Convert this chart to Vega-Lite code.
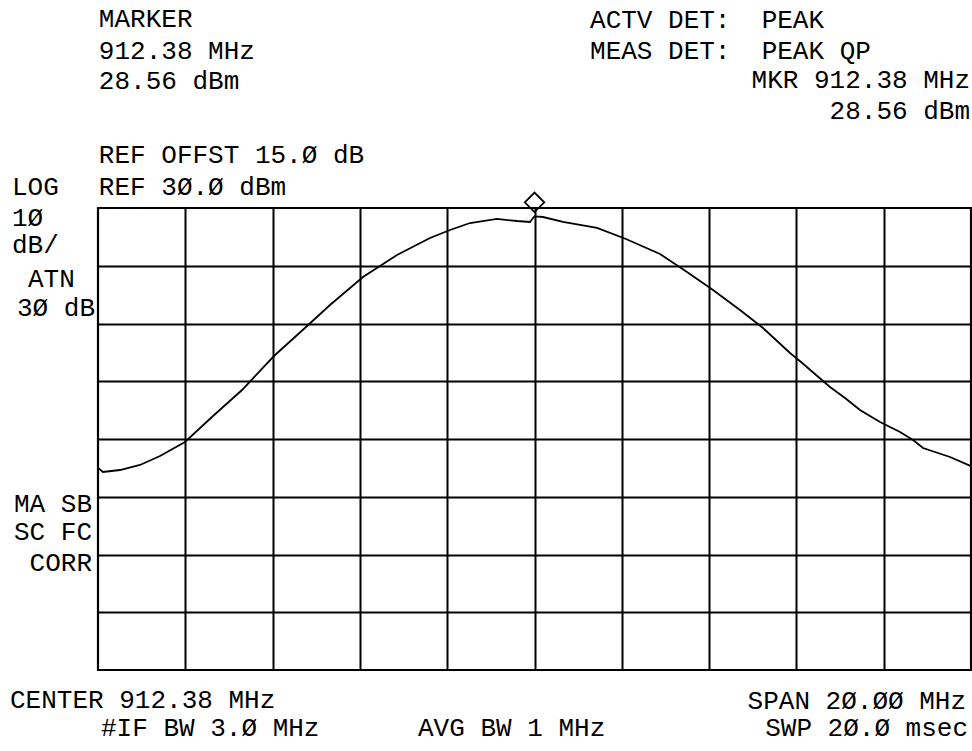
{
  "$schema": "https://vega.github.io/schema/vega-lite/v6.json",
  "width": 873,
  "height": 462,
  "autosize": {"type": "none"},
  "padding": {"left": 98, "top": 208, "right": 1, "bottom": 81},
  "background": "white",
  "data": {"values": [{}]},
  "config": {
    "view": {"stroke": "black", "strokeWidth": 2.2},
    "text": {"font": "Liberation Mono", "fontSize": 26, "color": "black", "baseline": "middle"}
  },
  "datasets": {
    "trace": [
      {"f": 902.38, "dbm": -15.0},
      {"f": 902.495, "dbm": -15.71},
      {"f": 902.884, "dbm": -15.37},
      {"f": 903.342, "dbm": -14.5},
      {"f": 903.8, "dbm": -12.94},
      {"f": 904.373, "dbm": -10.52},
      {"f": 905.015, "dbm": -6.02},
      {"f": 905.679, "dbm": -1.52},
      {"f": 906.412, "dbm": 4.37},
      {"f": 907.145, "dbm": 9.39},
      {"f": 907.695, "dbm": 13.2},
      {"f": 908.451, "dbm": 18.05},
      {"f": 909.23, "dbm": 21.86},
      {"f": 909.986, "dbm": 24.81},
      {"f": 910.444, "dbm": 26.19},
      {"f": 910.903, "dbm": 27.4},
      {"f": 911.521, "dbm": 28.1},
      {"f": 911.979, "dbm": 27.75},
      {"f": 912.277, "dbm": 27.58},
      {"f": 912.346, "dbm": 28.27},
      {"f": 912.38, "dbm": 28.56},
      {"f": 912.575, "dbm": 28.44},
      {"f": 913.033, "dbm": 27.58},
      {"f": 913.812, "dbm": 26.54},
      {"f": 914.476, "dbm": 24.63},
      {"f": 915.255, "dbm": 22.03},
      {"f": 915.874, "dbm": 18.92},
      {"f": 916.47, "dbm": 15.8},
      {"f": 917.088, "dbm": 12.34},
      {"f": 917.615, "dbm": 9.22},
      {"f": 918.234, "dbm": 4.89},
      {"f": 918.486, "dbm": 3.33},
      {"f": 919.15, "dbm": -1.0},
      {"f": 919.494, "dbm": -2.9},
      {"f": 919.837, "dbm": -4.98},
      {"f": 920.296, "dbm": -7.06},
      {"f": 920.754, "dbm": -8.79},
      {"f": 921.052, "dbm": -10.17},
      {"f": 921.281, "dbm": -11.56},
      {"f": 921.899, "dbm": -13.12},
      {"f": 922.38, "dbm": -14.7}
    ]
  },
  "layer": [
    {
      "data": {"name": "trace"},
      "mark": {"type": "line", "color": "black", "strokeWidth": 1.8, "interpolate": "linear"},
      "encoding": {
        "x": {
          "field": "f", "type": "quantitative",
          "scale": {"domain": [902.38, 922.38], "nice": false, "zero": false},
          "axis": {"values": [904.38, 906.38, 908.38, 910.38, 912.38, 914.38, 916.38, 918.38, 920.38], "grid": true, "gridColor": "black", "gridOpacity": 1, "gridWidth": 2, "labels": false, "ticks": false, "domain": false, "title": null}
        },
        "y": {
          "field": "dbm", "type": "quantitative",
          "scale": {"domain": [-50, 30], "nice": false, "zero": false},
          "axis": {"values": [-40, -30, -20, -10, 0, 10, 20], "grid": true, "gridColor": "black", "gridOpacity": 1, "gridWidth": 2, "labels": false, "ticks": false, "domain": false, "title": null}
        }
      }
    },
    {
      "mark": {"type": "point", "shape": "diamond", "filled": false, "stroke": "black", "strokeWidth": 1.8, "size": 380, "yOffset": -14, "opacity": 1},
      "encoding": {"x": {"datum": 912.38}, "y": {"datum": 28.56}}
    },
    {"mark": {"type": "text", "align": "left"}, "encoding": {"x": {"datum": 902.40}, "y": {"datum": 62.81}, "text": {"value": "MARKER"}}},
    {"mark": {"type": "text", "align": "left"}, "encoding": {"x": {"datum": 902.40}, "y": {"datum": 57.19}, "text": {"value": "912.38 MHz"}}},
    {"mark": {"type": "text", "align": "left"}, "encoding": {"x": {"datum": 902.40}, "y": {"datum": 51.99}, "text": {"value": "28.56 dBm"}}},
    {"mark": {"type": "text", "align": "left"}, "encoding": {"x": {"datum": 902.40}, "y": {"datum": 39.18}, "text": {"value": "REF OFFST 15.Ø dB"}}},
    {"mark": {"type": "text", "align": "left"}, "encoding": {"x": {"datum": 902.40}, "y": {"datum": 33.72}, "text": {"value": "REF 3Ø.Ø dBm"}}},
    {"mark": {"type": "text", "align": "left"}, "encoding": {"x": {"datum": 900.41}, "y": {"datum": 33.72}, "text": {"value": "LOG"}}},
    {"mark": {"type": "text", "align": "left"}, "encoding": {"x": {"datum": 913.652}, "y": {"datum": 62.47}, "text": {"value": "ACTV DET: \u00a0PEAK"}}},
    {"mark": {"type": "text", "align": "left"}, "encoding": {"x": {"datum": 913.652}, "y": {"datum": 57.10}, "text": {"value": "MEAS DET: \u00a0PEAK QP"}}},
    {"mark": {"type": "text", "align": "right"}, "encoding": {"x": {"datum": 922.358}, "y": {"datum": 52.08}, "text": {"value": "MKR 912.38 MHz"}}},
    {"mark": {"type": "text", "align": "right"}, "encoding": {"x": {"datum": 922.358}, "y": {"datum": 46.88}, "text": {"value": "28.56 dBm"}}},
    {"mark": {"type": "text", "align": "left"}, "encoding": {"x": {"datum": 900.41}, "y": {"datum": 28.35}, "text": {"value": "1Ø"}}},
    {"mark": {"type": "text", "align": "left"}, "encoding": {"x": {"datum": 900.41}, "y": {"datum": 23.51}, "text": {"value": "dB/"}}},
    {"mark": {"type": "text", "align": "left"}, "encoding": {"x": {"datum": 900.776}, "y": {"datum": 17.62}, "text": {"value": "ATN"}}},
    {"mark": {"type": "text", "align": "right"}, "encoding": {"x": {"datum": 902.311}, "y": {"datum": 12.6}, "text": {"value": "3Ø dB"}}},
    {"mark": {"type": "text", "align": "right"}, "encoding": {"x": {"datum": 902.243}, "y": {"datum": -21.34}, "text": {"value": "MA SB"}}},
    {"mark": {"type": "text", "align": "right"}, "encoding": {"x": {"datum": 902.243}, "y": {"datum": -26.19}, "text": {"value": "SC FC"}}},
    {"mark": {"type": "text", "align": "right"}, "encoding": {"x": {"datum": 902.243}, "y": {"datum": -31.39}, "text": {"value": "CORR"}}},
    {"mark": {"type": "text", "align": "left"}, "encoding": {"x": {"datum": 900.364}, "y": {"datum": -55.19}, "text": {"value": "CENTER 912.38 MHz"}}},
    {"mark": {"type": "text", "align": "right"}, "encoding": {"x": {"datum": 922.266}, "y": {"datum": -55.37}, "text": {"value": "SPAN 2Ø.ØØ MHz"}}},
    {"mark": {"type": "text", "align": "left"}, "encoding": {"x": {"datum": 902.449}, "y": {"datum": -60.04}, "text": {"value": "#IF BW 3.Ø MHz"}}},
    {"mark": {"type": "text", "align": "left"}, "encoding": {"x": {"datum": 909.711}, "y": {"datum": -60.04}, "text": {"value": "AVG BW 1 MHz"}}},
    {"mark": {"type": "text", "align": "right"}, "encoding": {"x": {"datum": 922.312}, "y": {"datum": -60.04}, "text": {"value": "SWP 2Ø.Ø msec"}}}
  ]
}
